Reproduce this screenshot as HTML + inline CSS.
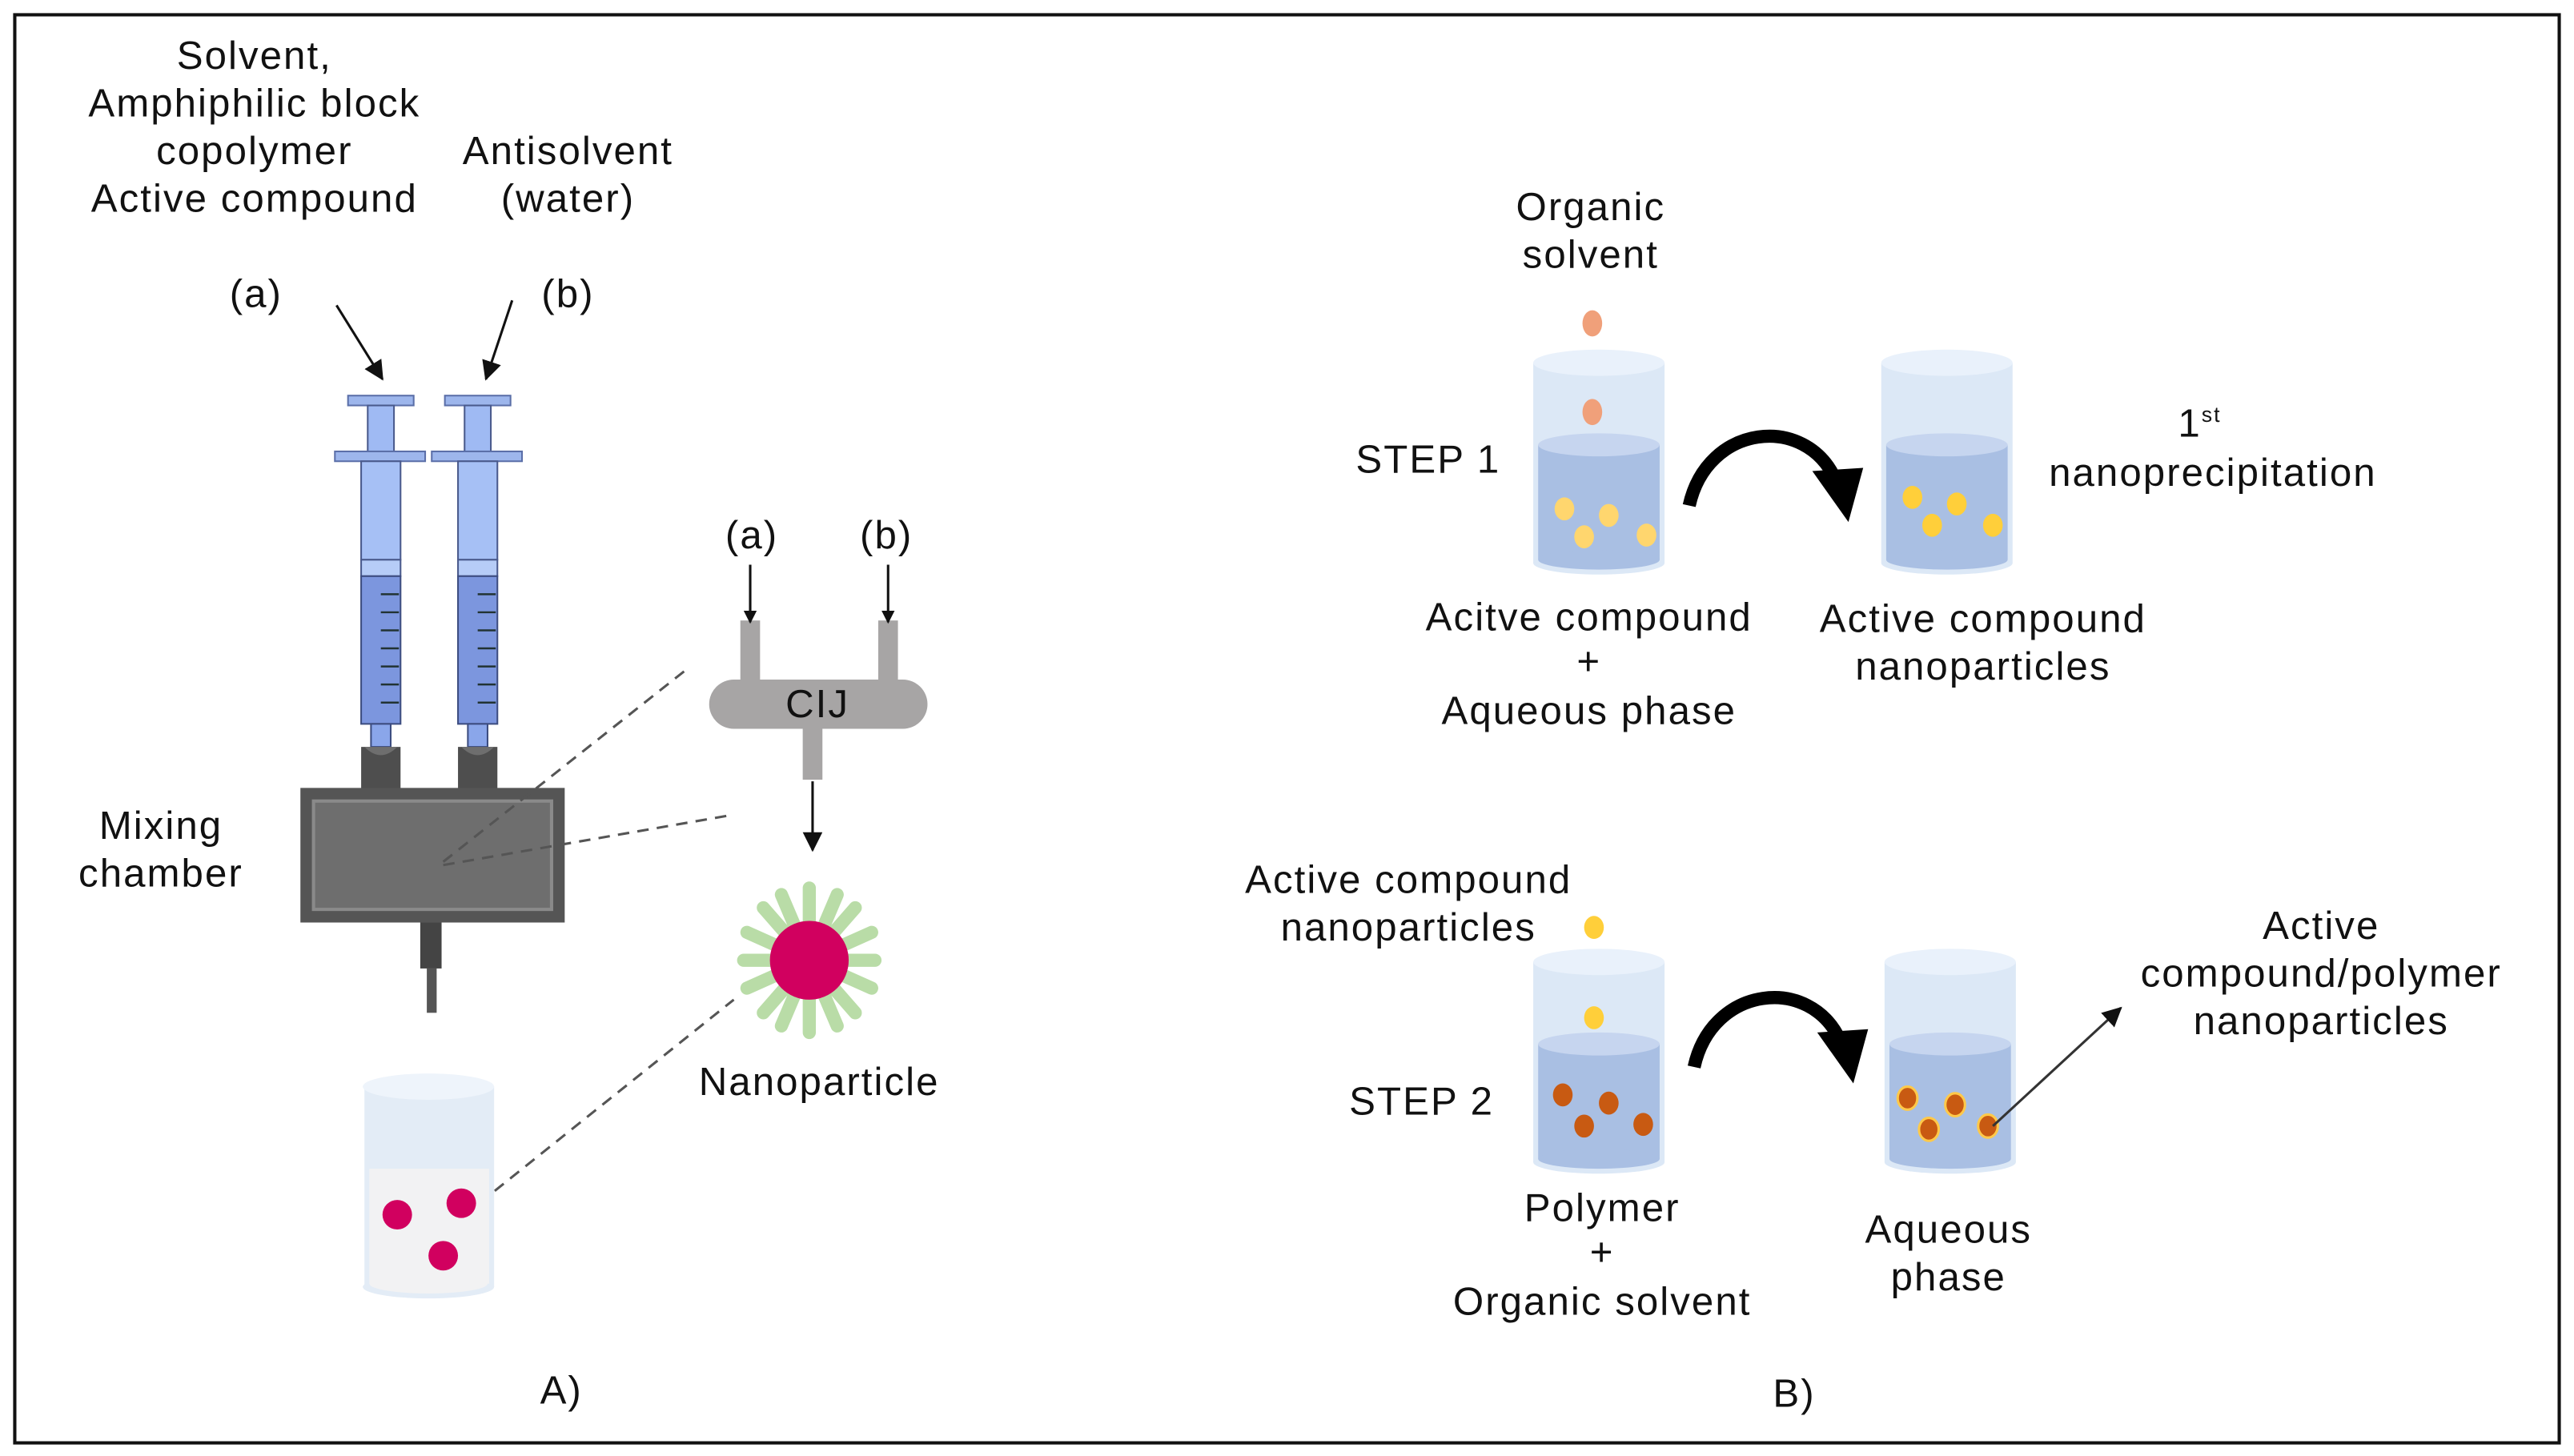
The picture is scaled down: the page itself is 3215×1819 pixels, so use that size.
<!DOCTYPE html>
<html><head><meta charset="utf-8"><style>
html,body{margin:0;padding:0;background:#fff}
svg{display:block}
text{font-family:"Liberation Sans",sans-serif;font-size:24px;letter-spacing:1px;fill:#111;text-anchor:middle}
</style></head><body>
<svg width="3215" height="1819" viewBox="0 0 1568 887" preserveAspectRatio="none" xmlns="http://www.w3.org/2000/svg">
<defs>
<g id="bk">
<rect x="0" y="8" width="80" height="122" fill="#dce8f6"/>
<ellipse cx="40" cy="130" rx="40" ry="7" fill="#dce8f6"/>
<ellipse cx="40" cy="8" rx="40" ry="8" fill="#e9f1fb"/>
<rect x="3" y="58" width="74" height="70" fill="#a9bfe3"/>
<ellipse cx="40" cy="128" rx="37" ry="6" fill="#a9bfe3"/>
<ellipse cx="40" cy="58" rx="37" ry="7" fill="#c6d5ef"/>
</g>
<marker id="ah" markerWidth="8" markerHeight="8" refX="7" refY="4" orient="auto" markerUnits="userSpaceOnUse"><path d="M0,0 L8,4 L0,8z" fill="#111"/></marker>
<marker id="ah2" markerWidth="12" markerHeight="12" refX="11" refY="6" orient="auto" markerUnits="userSpaceOnUse"><path d="M0,0 L12,6 L0,12z" fill="#111"/></marker>
</defs>
<rect x="9" y="9" width="1550" height="870" fill="#fff" stroke="#111" stroke-width="2"/>

<text x="155" y="42">Solvent,</text>
<text x="155" y="71">Amphiphilic block</text>
<text x="155" y="100">copolymer</text>
<text x="155" y="129">Active compound</text>
<text x="346" y="100">Antisolvent</text>
<text x="346" y="129">(water)</text>
<text x="156" y="187">(a)</text>
<text x="346" y="187">(b)</text>
<line x1="205" y1="186" x2="233" y2="231" stroke="#111" stroke-width="1.5" marker-end="url(#ah2)"/>
<line x1="312" y1="183" x2="296" y2="231" stroke="#111" stroke-width="1.5" marker-end="url(#ah2)"/>

<g id="syr">
<rect x="212" y="241" width="40" height="6" fill="#9db6ec" stroke="#5b6fa8" stroke-width="1"/>
<rect x="224" y="247" width="16" height="95" fill="#9fbaf3" stroke="#4a5a8c" stroke-width="1"/>
<rect x="204" y="275" width="55" height="6" fill="#9db6ec" stroke="#5b6fa8" stroke-width="1"/>
<rect x="220" y="281" width="24" height="60" fill="#a6c0f5" stroke="#4a5a8c" stroke-width="1"/>
<rect x="220" y="341" width="24" height="10" fill="#b6ccf7" stroke="#4a5a8c" stroke-width="1"/>
<rect x="220" y="351" width="24" height="90" fill="#7c96de" stroke="#3d4d80" stroke-width="1"/>
<g stroke="#233" stroke-width="1.2"><line x1="232" y1="362" x2="243" y2="362"/><line x1="232" y1="373" x2="243" y2="373"/><line x1="232" y1="384" x2="243" y2="384"/><line x1="232" y1="395" x2="243" y2="395"/><line x1="232" y1="406" x2="243" y2="406"/><line x1="232" y1="417" x2="243" y2="417"/><line x1="232" y1="428" x2="243" y2="428"/></g>
<rect x="226" y="441" width="12" height="14" fill="#8aa6ea" stroke="#3d4d80" stroke-width="1"/>
<path d="M220,455 L244,455 L244,482 L220,482z" fill="#4e4e4e"/>
<path d="M222,455 Q232,465 242,455" fill="#6e6e6e"/>
</g>
<use href="#syr" transform="translate(59,0)"/>

<rect x="183" y="480" width="161" height="82" fill="#555"/>
<rect x="191" y="488" width="145" height="66" fill="#6e6e6e" stroke="#8a8a8a" stroke-width="2"/>
<rect x="256" y="562" width="13" height="28" fill="#444"/>
<rect x="260" y="590" width="6" height="27" fill="#555"/>
<text x="98" y="511">Mixing</text>
<text x="98" y="540">chamber</text>
<g stroke="#555" stroke-width="1.5" stroke-dasharray="7,5" fill="none">
<line x1="270" y1="525" x2="418" y2="408"/>
<line x1="270" y1="527" x2="443" y2="497"/>
<line x1="292" y1="733" x2="447" y2="609"/>
</g>

<rect x="451" y="378" width="12" height="40" fill="#a7a5a5"/>
<rect x="535" y="378" width="12" height="40" fill="#a7a5a5"/>
<rect x="489" y="440" width="12" height="35" fill="#a7a5a5"/>
<rect x="432" y="414" width="133" height="30" rx="15" fill="#a7a5a5"/>
<text x="498" y="437">CIJ</text>
<text x="458" y="334">(a)</text>
<text x="540" y="334">(b)</text>
<line x1="457" y1="344" x2="457" y2="379" stroke="#111" stroke-width="1.5" marker-end="url(#ah)"/>
<line x1="541" y1="344" x2="541" y2="379" stroke="#111" stroke-width="1.5" marker-end="url(#ah)"/>
<line x1="495" y1="476" x2="495" y2="518" stroke="#111" stroke-width="1.5" marker-end="url(#ah2)"/>

<g stroke="#b9dca7" stroke-width="8" stroke-linecap="round">
<line x1="493" y1="585" x2="493" y2="541"/><line x1="493" y1="585" x2="493" y2="629"/>
<line x1="493" y1="585" x2="453" y2="585"/><line x1="493" y1="585" x2="533" y2="585"/>
<line x1="493" y1="585" x2="465" y2="553"/><line x1="493" y1="585" x2="521" y2="553"/>
<line x1="493" y1="585" x2="465" y2="617"/><line x1="493" y1="585" x2="521" y2="617"/>
<line x1="493" y1="585" x2="476" y2="545"/><line x1="493" y1="585" x2="510" y2="545"/>
<line x1="493" y1="585" x2="476" y2="625"/><line x1="493" y1="585" x2="510" y2="625"/>
<line x1="493" y1="585" x2="455" y2="568"/><line x1="493" y1="585" x2="531" y2="568"/>
<line x1="493" y1="585" x2="455" y2="602"/><line x1="493" y1="585" x2="531" y2="602"/>
</g>
<circle cx="493" cy="585" r="24" fill="#d1005f"/>
<text x="499" y="667">Nanoparticle</text>

<rect x="222" y="662" width="79" height="122" fill="#e3ecf6"/>
<ellipse cx="261" cy="784" rx="40" ry="7" fill="#e3ecf6"/>
<ellipse cx="261" cy="662" rx="40" ry="8" fill="#eef4fb"/>
<rect x="225" y="712" width="73" height="70" fill="#f2f2f3"/>
<ellipse cx="261" cy="782" rx="36" ry="6" fill="#f2f2f3"/>
<g fill="#d1005f"><circle cx="242" cy="740" r="9"/><circle cx="281" cy="733" r="9"/><circle cx="270" cy="765" r="9"/></g>
<text x="342" y="855">A)</text>

<text x="969" y="134">Organic</text>
<text x="969" y="163">solvent</text>
<ellipse cx="970" cy="197" rx="6" ry="8" fill="#f0a07a"/>
<use href="#bk" transform="translate(934,213)"/>
<ellipse cx="970" cy="251" rx="6" ry="8" fill="#f0a07a"/>
<g fill="#ffd66e"><ellipse cx="953" cy="310" rx="6" ry="7"/><ellipse cx="980" cy="314" rx="6" ry="7"/><ellipse cx="965" cy="327" rx="6" ry="7"/><ellipse cx="1003" cy="326" rx="6" ry="7"/></g>
<text x="870" y="288">STEP 1</text>
<path d="M1029,308 C1040,258 1100,252 1118,292" fill="none" stroke="#000" stroke-width="8"/>
<path d="M1104,287 L1135,285 L1126,318z" fill="#000"/>
<use href="#bk" transform="translate(1146,213)"/>
<g fill="#ffcf3a"><ellipse cx="1165" cy="303" rx="6" ry="7"/><ellipse cx="1192" cy="307" rx="6" ry="7"/><ellipse cx="1177" cy="320" rx="6" ry="7"/><ellipse cx="1214" cy="320" rx="6" ry="7"/></g>
<text x="1340" y="266">1<tspan font-size="13" dy="-9">st</tspan></text>
<text x="1348" y="296">nanoprecipitation</text>
<text x="968" y="384">Acitve compound</text>
<text x="968" y="411">+</text>
<text x="968" y="441">Aqueous phase</text>
<text x="1208" y="385">Active compound</text>
<text x="1208" y="414">nanoparticles</text>

<text x="858" y="544">Active compound</text>
<text x="858" y="573">nanoparticles</text>
<ellipse cx="971" cy="565" rx="6" ry="7" fill="#ffcf3a"/>
<use href="#bk" transform="translate(934,578)"/>
<ellipse cx="971" cy="620" rx="6" ry="7" fill="#ffcf3a"/>
<g fill="#c85a12"><ellipse cx="952" cy="667" rx="6" ry="7"/><ellipse cx="980" cy="672" rx="6" ry="7"/><ellipse cx="965" cy="686" rx="6" ry="7"/><ellipse cx="1001" cy="685" rx="6" ry="7"/></g>
<text x="866" y="679">STEP 2</text>
<path d="M1032,650 C1043,600 1103,594 1121,634" fill="none" stroke="#000" stroke-width="8"/>
<path d="M1107,629 L1138,627 L1129,660z" fill="#000"/>
<use href="#bk" transform="translate(1148,578)"/>
<g fill="#c85a12" stroke="#ffc94a" stroke-width="1.5"><ellipse cx="1162" cy="669" rx="6" ry="7"/><ellipse cx="1191" cy="673" rx="6" ry="7"/><ellipse cx="1175" cy="688" rx="6" ry="7"/><ellipse cx="1211" cy="686" rx="6" ry="7"/></g>
<line x1="1214" y1="686" x2="1292" y2="614" stroke="#333" stroke-width="1.5" marker-end="url(#ah2)"/>
<text x="1414" y="572">Active</text>
<text x="1414" y="601">compound/polymer</text>
<text x="1414" y="630">nanoparticles</text>
<text x="976" y="744">Polymer</text>
<text x="976" y="771">+</text>
<text x="976" y="801">Organic solvent</text>
<text x="1187" y="757">Aqueous</text>
<text x="1187" y="786">phase</text>
<text x="1093" y="857">B)</text>
</svg>
</body></html>
